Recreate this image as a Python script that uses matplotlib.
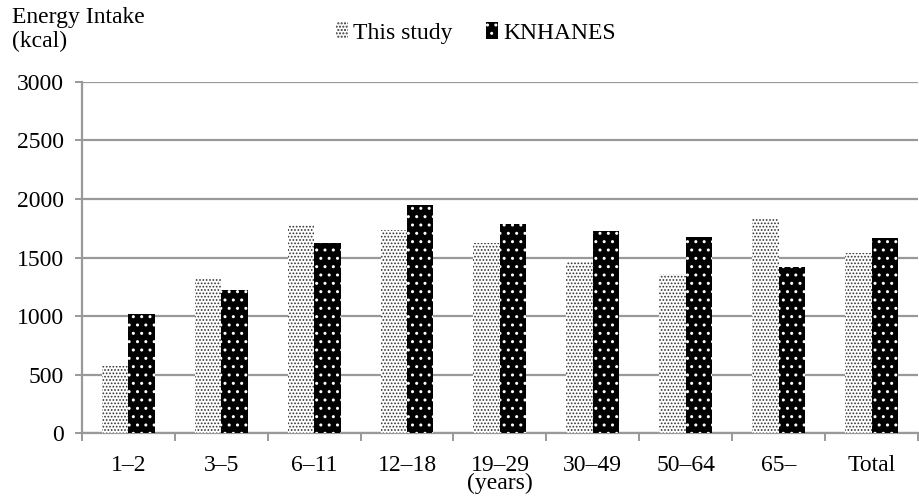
import matplotlib
matplotlib.use("Agg")
import matplotlib.pyplot as plt
import numpy as np

# values (kcal)
groups = ["1–2", "3–5", "6–11", "12–18", "19–29\n(years)", "30–49", "50–64", "65–", "Total"]
this_study = [574, 1321, 1780, 1738, 1626, 1466, 1356, 1830, 1537]
knhanes = [1015, 1222, 1621, 1945, 1785, 1729, 1672, 1415, 1666]

plt.rcParams['font.family'] = ['Liberation Serif', 'DejaVu Serif']
plt.rcParams['font.size'] = 17
plt.rcParams['hatch.linewidth'] = 1.0

grey = '#999999'

fig = plt.figure(figsize=(9.19, 5.0), dpi=100)
ax = fig.add_axes([0.089, 0.1334, 0.91, 0.7032])

x = np.arange(len(groups))
w = 0.285
b1 = ax.bar(x - w / 2, this_study, w, facecolor='white', edgecolor='#333333',
            hatch='.....', linewidth=0, label='This study', zorder=3)
b2 = ax.bar(x + w / 2, knhanes, w, facecolor='black', edgecolor='white',
            hatch='..', linewidth=0, label='KNHANES', zorder=3)
for p in b1:
    try:
        p.set_hatch_linewidth(0.8)
    except AttributeError:
        pass

ax.set_xlim(-0.5, len(groups) - 0.5)
ax.set_ylim(0, 3000)
ax.set_yticks(range(0, 3001, 500))
ax.yaxis.grid(True, color=grey, linewidth=1.6, zorder=0)
ax.set_axisbelow(True)

ax.set_xticks(x)
ax.set_xticklabels(groups, linespacing=0.82)
ax.set_xticks(np.arange(-0.5, len(groups), 1.0), minor=True)
ax.tick_params(axis='x', which='major', length=0, pad=15.5)
ax.tick_params(axis='x', which='minor', length=6, width=1.4, color=grey)
ax.tick_params(axis='y', length=5, width=1.4, color=grey, pad=8)

for s in ['top', 'right']:
    ax.spines[s].set_visible(False)
for s in ['left', 'bottom']:
    ax.spines[s].set_color(grey)
    ax.spines[s].set_linewidth(1.6)

fig.text(0.013, 0.985, "Energy Intake\n(kcal)", ha='left', va='top', linespacing=1.15)
fig.legend(handles=[b1, b2], loc='center', bbox_to_anchor=(0.518, 0.934), ncol=2,
           frameon=False, handlelength=0.5, handleheight=0.7, handletextpad=0.25,
           columnspacing=1.4)

fig.savefig("out.png", dpi=100)
